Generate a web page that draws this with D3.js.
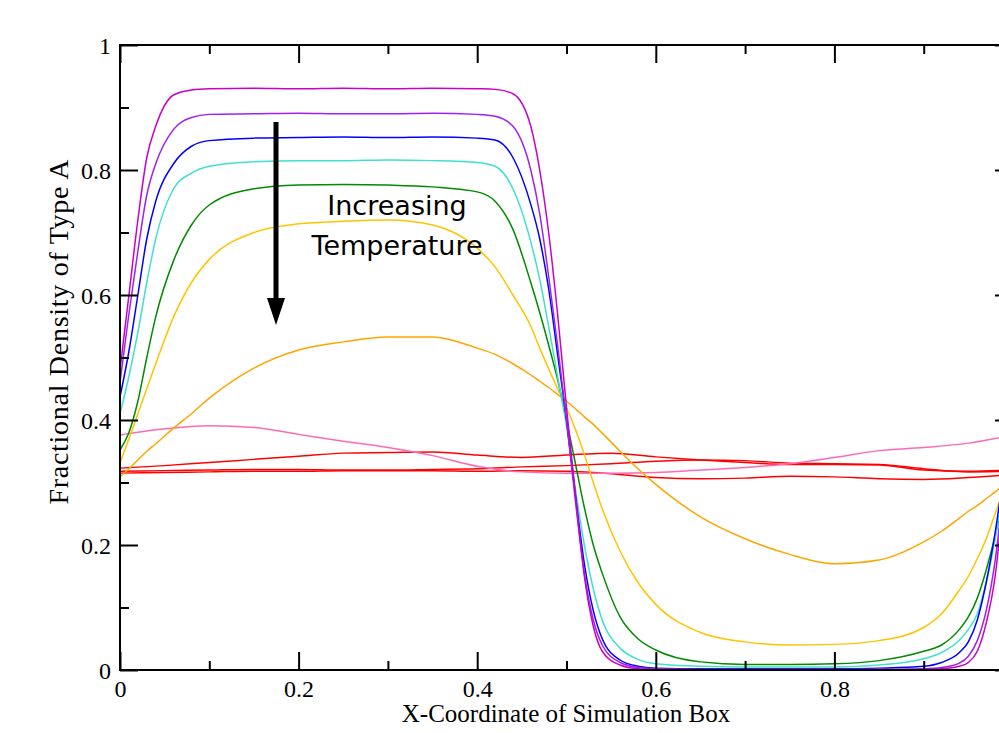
<!DOCTYPE html>
<html>
<head>
<meta charset="utf-8">
<script src="https://cdn.jsdelivr.net/npm/d3@7"></script>
<style>
    body { margin: 0; background: #fff; }
    svg { display: block; }
</style>
</head>
<body>
<svg id="chart" width="999" height="733"></svg>
<script>
// sample positions along the box (dense near the interfaces)
const xDense = [0, 0.01, 0.02, 0.03, 0.04, 0.06, 0.08, 0.1, 0.15, 0.2, 0.25, 0.3, 0.35, 0.4,
    0.42, 0.44, 0.46, 0.47, 0.48, 0.49, 0.5, 0.51, 0.52, 0.53, 0.54, 0.56, 0.58, 0.6,
    0.65, 0.7, 0.75, 0.8, 0.85, 0.9, 0.92, 0.94, 0.95, 0.96, 0.97, 0.98, 0.99, 1.0];
const xCoarse = [0, 0.05, 0.1, 0.15, 0.2, 0.25, 0.3, 0.35, 0.4, 0.45, 0.5,
    0.55, 0.6, 0.65, 0.7, 0.75, 0.8, 0.85, 0.9, 0.95, 1.0];

// lowest temperature first
const magentaRun = [0.48, 0.60, 0.72, 0.82, 0.87, 0.92, 0.928, 0.93, 0.931, 0.93, 0.931, 0.93, 0.931, 0.93,
    0.929, 0.922, 0.87, 0.80, 0.70, 0.57, 0.42, 0.28, 0.15, 0.07, 0.03, 0.008, 0.002, 0.001,
    0.001, 0.001, 0.001, 0.001, 0.001, 0.001, 0.002, 0.006, 0.012, 0.03, 0.075, 0.15, 0.29, 0.46];
const purpleRun = [0.46, 0.57, 0.67, 0.76, 0.81, 0.865, 0.884, 0.889, 0.89, 0.891, 0.89, 0.89, 0.891, 0.889,
    0.886, 0.87, 0.80, 0.73, 0.63, 0.52, 0.40, 0.27, 0.155, 0.08, 0.04, 0.012, 0.004, 0.002,
    0.001, 0.001, 0.001, 0.001, 0.001, 0.002, 0.004, 0.011, 0.022, 0.047, 0.095, 0.175, 0.30, 0.44];
const blueRun = [0.437, 0.51, 0.60, 0.69, 0.75, 0.81, 0.838, 0.847, 0.851, 0.852, 0.853, 0.852, 0.853, 0.851,
    0.848, 0.82, 0.745, 0.69, 0.61, 0.505, 0.40, 0.28, 0.17, 0.095, 0.05, 0.016, 0.006, 0.003,
    0.002, 0.002, 0.002, 0.002, 0.003, 0.006, 0.012, 0.028, 0.045, 0.08, 0.14, 0.22, 0.32, 0.43];
const turquoiseRun = [0.41, 0.47, 0.54, 0.62, 0.69, 0.77, 0.795, 0.806, 0.813, 0.815, 0.815, 0.816, 0.815, 0.812,
    0.806, 0.77, 0.685, 0.625, 0.55, 0.47, 0.39, 0.29, 0.20, 0.13, 0.08, 0.035, 0.017, 0.01,
    0.006, 0.005, 0.005, 0.005, 0.008, 0.018, 0.028, 0.048, 0.065, 0.09, 0.14, 0.21, 0.30, 0.40];
const greenRun = [0.352, 0.38, 0.43, 0.50, 0.565, 0.655, 0.712, 0.744, 0.77, 0.776, 0.777, 0.776, 0.773, 0.765,
    0.75, 0.705, 0.62, 0.572, 0.52, 0.465, 0.40, 0.33, 0.26, 0.20, 0.155, 0.085, 0.05, 0.032,
    0.013, 0.009, 0.009, 0.01, 0.015, 0.03, 0.04, 0.065, 0.085, 0.115, 0.16, 0.215, 0.28, 0.35];
const goldRun = [0.331, 0.37, 0.41, 0.45, 0.49, 0.565, 0.62, 0.657, 0.70, 0.714, 0.718, 0.72, 0.712, 0.675,
    0.645, 0.60, 0.55, 0.515, 0.482, 0.45, 0.42, 0.385, 0.345, 0.30, 0.258, 0.19, 0.14, 0.105,
    0.06, 0.045, 0.04, 0.041, 0.047, 0.068, 0.09, 0.128, 0.15, 0.178, 0.21, 0.25, 0.29, 0.331];
const orangeRun = [0.309, 0.322, 0.336, 0.35, 0.362, 0.387, 0.41, 0.435, 0.483, 0.512, 0.525, 0.533, 0.533, 0.515,
    0.505, 0.49, 0.472, 0.462, 0.452, 0.441, 0.43, 0.418, 0.405, 0.393, 0.379, 0.35, 0.322, 0.297,
    0.245, 0.21, 0.185, 0.17, 0.176, 0.205, 0.222, 0.243, 0.254, 0.263, 0.274, 0.285, 0.297, 0.309];
const pinkRun = [0.376, 0.386, 0.391, 0.388, 0.377, 0.366, 0.356, 0.343, 0.326, 0.317, 0.315,
    0.315, 0.316, 0.32, 0.324, 0.33, 0.34, 0.351, 0.356, 0.363, 0.376];
const redRunA = [0.323, 0.327, 0.332, 0.337, 0.342, 0.347, 0.348, 0.349, 0.344, 0.34, 0.344,
    0.347, 0.341, 0.336, 0.332, 0.329, 0.329, 0.328, 0.32, 0.318, 0.32];
const redRunB = [0.318, 0.319, 0.32, 0.321, 0.321, 0.32, 0.32, 0.321, 0.322, 0.325, 0.327,
    0.33, 0.334, 0.336, 0.335, 0.331, 0.33, 0.329, 0.322, 0.317, 0.318];
const redRunC = [0.315, 0.316, 0.317, 0.318, 0.318, 0.319, 0.319, 0.319, 0.318, 0.319, 0.318,
    0.314, 0.308, 0.306, 0.307, 0.31, 0.309, 0.306, 0.305, 0.308, 0.313];

const xTicksMajor = [0, 0.2, 0.4, 0.6, 0.8, 1.0];
const xTicksMinor = [0.1, 0.3, 0.5, 0.7, 0.9];
const yTicksMajor = [0, 0.2, 0.4, 0.6, 0.8, 1.0];
const yTicksMinor = [0.1, 0.3, 0.5, 0.7, 0.9];
const xTickLabels = ['0', '0.2', '0.4', '0.6', '0.8'];
const yTickLabels = ['0', '0.2', '0.4', '0.6', '0.8', '1'];

const series = [
    { xs: xCoarse, ys: redRunC, color: '#ff0000' },
    { xs: xCoarse, ys: redRunB, color: '#ff0000' },
    { xs: xCoarse, ys: redRunA, color: '#ff0000' },
    { xs: xCoarse, ys: pinkRun, color: '#ff69b4' },
    { xs: xDense, ys: orangeRun, color: '#ffa500' },
    { xs: xDense, ys: goldRun, color: '#ffc400' },
    { xs: xDense, ys: greenRun, color: '#008b00' },
    { xs: xDense, ys: turquoiseRun, color: '#40e0d0' },
    { xs: xDense, ys: blueRun, color: '#0000ff' },
    { xs: xDense, ys: purpleRun, color: '#a020f0' },
    { xs: xDense, ys: magentaRun, color: '#c800c8' }
];

const margin = { left: 120, top: 45, right: 1013, bottom: 670 };
const serif = '"Liberation Serif", "Times New Roman", serif';

const svg = d3.select('#chart');

const x = d3.scaleLinear().domain([0, 1]).range([margin.left, margin.right]);
const y = d3.scaleLinear().domain([0, 1]).range([margin.bottom, margin.top]);

const line = d3
    .line()
    .x(d => x(d[0]))
    .y(d => y(d[1]))
    .curve(d3.curveMonotoneX);

const plot = svg.append('g');

series.forEach(s => {
    plot.append('path')
        .datum(d3.zip(s.xs, s.ys))
        .attr('fill', 'none')
        .attr('stroke', s.color)
        .attr('stroke-width', 1.5)
        .attr('d', line);
});

// ticks pointing inward on all four sides
const addAxis = (axis, transform, values, size, labels) => {
    const g = svg.append('g')
        .attr('transform', transform)
        .call(axis.tickValues(values).tickSize(size).tickPadding(0)
            .tickFormat((d, i) => (labels && labels[i] !== undefined ? labels[i] : '')));
    g.select('.domain').remove();
    g.selectAll('.tick line').attr('stroke', '#000').attr('stroke-width', 2);
    return g;
};

const bottomAxis = addAxis(d3.axisBottom(x), `translate(0,${margin.bottom})`, xTicksMajor, -18, xTickLabels);
bottomAxis.selectAll('.tick text')
    .attr('y', 27)
    .attr('dy', 0)
    .style('font-family', serif)
    .style('font-size', '24px')
    .attr('fill', '#000');
addAxis(d3.axisBottom(x), `translate(0,${margin.bottom})`, xTicksMinor, -9);
addAxis(d3.axisTop(x), `translate(0,${margin.top})`, xTicksMajor, -18);
addAxis(d3.axisTop(x), `translate(0,${margin.top})`, xTicksMinor, -9);

const leftAxis = addAxis(d3.axisLeft(y), `translate(${margin.left},0)`, yTicksMajor, -18, yTickLabels);
leftAxis.selectAll('.tick text')
    .attr('x', -9)
    .attr('dy', '0.34em')
    .style('font-family', serif)
    .style('font-size', '24px')
    .attr('fill', '#000');
addAxis(d3.axisLeft(y), `translate(${margin.left},0)`, yTicksMinor, -9);
addAxis(d3.axisRight(y), `translate(${margin.right},0)`, yTicksMajor, -18);
addAxis(d3.axisRight(y), `translate(${margin.right},0)`, yTicksMinor, -9);

svg.append('rect')
    .attr('x', margin.left)
    .attr('y', margin.top)
    .attr('width', margin.right - margin.left)
    .attr('height', margin.bottom - margin.top)
    .attr('fill', 'none')
    .attr('stroke', '#000')
    .attr('stroke-width', 2);

svg.append('text')
    .attr('x', 566)
    .attr('y', 722)
    .attr('text-anchor', 'middle')
    .style('font-family', serif)
    .style('font-size', '25px')
    .text('X-Coordinate of Simulation Box');

svg.append('text')
    .attr('transform', 'translate(68,332) rotate(-90)')
    .attr('text-anchor', 'middle')
    .attr('textLength', 345)
    .attr('lengthAdjust', 'spacing')
    .style('font-family', serif)
    .style('font-size', '28px')
    .text('Fractional Density of Type A');

// annotation
svg.append('line')
    .attr('x1', 276).attr('y1', 122)
    .attr('x2', 276).attr('y2', 302)
    .attr('stroke', '#000')
    .attr('stroke-width', 5);
svg.append('path')
    .attr('d', 'M267,298 L285,298 L276,325 Z')
    .attr('fill', '#000');

svg.append('text')
    .attr('x', 397)
    .attr('y', 215)
    .attr('text-anchor', 'middle')
    .style('font-family', '"DejaVu Sans", sans-serif')
    .style('font-size', '27px')
    .text('Increasing');
svg.append('text')
    .attr('x', 397)
    .attr('y', 255)
    .attr('text-anchor', 'middle')
    .style('font-family', '"DejaVu Sans", sans-serif')
    .style('font-size', '27px')
    .text('Temperature');
</script>
</body>
</html>
